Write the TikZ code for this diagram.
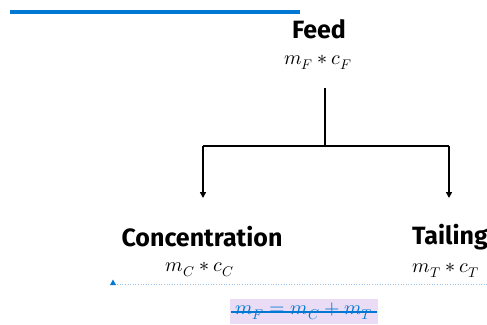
\documentclass[tikz,border=0pt]{standalone}
\usepackage{fontspec}
\setmainfont{Fira Sans}
\usepackage{unicode-math}
\setmathfont{Latin Modern Math}
\usetikzlibrary{arrows.meta}
\definecolor{msblue}{HTML}{0078D4}
\definecolor{lightblue}{HTML}{9DC3E6}
\definecolor{hilite}{HTML}{EADCF4}
\tikzset{
  title/.style={font=\fontsize{25}{28}\selectfont\bfseries, inner sep=0pt},
  formula/.style={font=\fontsize{20}{24}\selectfont, inner sep=0pt},
  conn/.style={line width=1.6pt, -{Triangle[length=6pt,width=6pt]}},
  plain/.style={line width=1.6pt}
}
\begin{document}
\begin{tikzpicture}[x=1pt,y=-1pt]
\useasboundingbox (0,0) rectangle (487,324);
\draw[msblue, line width=4pt] (10,12) -- (300,12);
\node[title] (feed) at (319,29) {Feed};
\node[formula] (mf) at (318,62) {$m_F * c_F$};
\coordinate (top) at (325,88);
\coordinate (mid) at (325,146);
\coordinate (lc) at (203,146);
\coordinate (rc) at (449,146);
\coordinate (la) at (203,198);
\coordinate (ra) at (449,198);
\draw[plain] (top) -- (mid);
\draw[plain] (lc) -- (rc);
\draw[conn] (lc) -- (la);
\draw[conn] (rc) -- (ra);
\node[title] (conc) at (202,237) {Concentration};
\node[title, anchor=east] (tail) at (488,237) {Tailing};
\node[formula] (mc) at (200,270) {$m_C * c_C$};
\node[formula] (mt) at (446,270) {$m_T * c_T$};
\draw[lightblue, dotted, line width=0.6pt] (112,284) -- (487,284);
\fill[msblue] (110,285) -- (116,285) -- (113,279.5) -- cycle;
\node[fill=hilite, minimum width=148pt, minimum height=25pt, inner sep=0pt, font=\fontsize{20}{24}\selectfont, text=msblue] (eq) at (304,311) {$m_F = m_C + m_T$};
\draw[msblue, line width=1.2pt] (231,312) -- (377,312);
\end{tikzpicture}
\end{document}
